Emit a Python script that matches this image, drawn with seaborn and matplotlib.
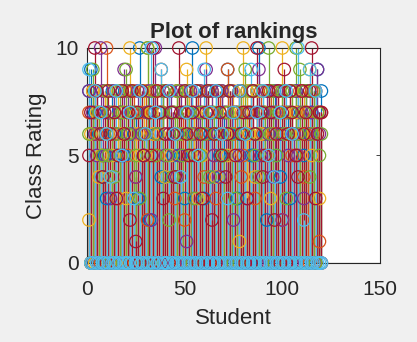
import numpy as np
import pandas as pd
import matplotlib
matplotlib.use("Agg")
import matplotlib.pyplot as plt
import seaborn as sns

students = list(range(1, 121))
s_blue = [8,9,0,7,8,6,0,4,5,3, 7,0,8,6,5,0,7,8,5,0,
          6,8,0,6,7,3,10,0,5,8, 7,2,0,8,6,0,7,4,8,4,
          0,8,7,5,0,6,8,5,0,3, 8,7,0,10,6,8,0,7,6,3,
          8,0,6,7,4,8,0,5,8,7, 0,9,6,8,0,7,3,6,0,6,
          7,8,0,5,5,0,8,10,7,0, 6,2,8,0,7,8,5,0,4,6,
          8,0,7,3,6,0,8,7,6,0, 5,8,0,6,7,8,0,9,7,8]
s_orange = [7,0,8,6,6,7,0,5,8,10, 0,7,6,8,0,3,7,0,6,8,
            5,0,7,8,4,0,6,7,0,8, 2,0,7,6,8,5,0,9,7,0,
            8,6,0,7,3,8,0,6,7,2, 0,8,5,7,0,6,8,0,7,4,
            6,8,0,7,5,3,0,8,6,0, 7,9,8,0,6,7,0,8,4,5,
            0,7,6,8,0,3,7,0,8,6, 7,0,5,8,6,0,7,8,0,2,
            6,7,0,8,5,0,5,7,8,0, 4,6,7,0,8,6,0,7,1,7]
s_yellow = [2,6,8,0,7,4,5,0,8,6, 0,4,5,7,0,8,6,0,7,3,
            0,10,8,0,6,7,5,0,8,5, 10,0,7,6,0,8,6,7,0,4,
            8,0,5,7,6,0,8,6,0,7, 9,8,0,6,7,0,3,8,5,0,
            10,7,0,8,6,4,0,7,8,0, 6,5,7,0,8,5,0,1,7,10,
            0,8,6,7,0,4,8,0,6,7, 5,0,8,3,0,7,6,8,0,10,
            7,0,6,6,8,0,7,5,0,6, 8,7,0,9,5,0,8,7,3,0]
s_purple = [8,0,7,6,5,0,10,8,0,5, 7,3,0,8,6,0,7,5,9,0,
            8,6,0,7,4,8,0,6,5,0, 7,8,2,0,10,6,0,7,8,5,
            0,6,8,7,0,4,5,8,0,7, 1,0,8,6,3,0,7,8,0,6,
            9,0,7,8,5,0,6,4,8,0, 7,6,0,8,2,0,7,5,8,0,
            6,3,0,7,8,6,0,9,5,7, 0,8,6,0,4,7,8,0,6,2,
            8,0,5,7,0,6,8,5,0,7, 3,8,0,6,7,0,8,9,6,0]
s_green = [6,0,9,8,0,7,6,5,0,8, 5,0,7,4,6,0,8,7,0,9,
           6,8,0,7,5,0,3,8,6,0, 10,7,0,8,5,6,0,7,8,0,
           5,2,0,4,7,8,0,6,5,0, 8,7,6,0,3,8,0,5,7,6,
           0,8,4,0,7,6,8,0,5,5, 0,7,8,6,0,3,7,0,8,6,
           9,0,7,8,0,5,6,4,0,8, 7,0,10,6,8,0,5,7,0,8,
           6,3,0,7,8,0,10,6,9,0, 7,8,0,4,6,8,0,7,5,6]
s_darkred = [5,7,0,10,8,0,6,4,7,0, 8,6,0,7,3,5,0,8,6,0,
             7,2,8,0,1,7,0,8,5,6, 0,7,5,10,0,8,7,0,3,6,
             8,0,7,6,4,0,10,7,0,8, 6,5,0,7,5,8,0,6,3,0,
             7,8,0,2,6,0,8,7,5,0, 4,6,8,0,7,5,0,8,6,7,
             0,3,7,0,8,6,10,0,7,4, 5,0,8,7,0,2,6,8,0,7,
             9,0,6,8,7,0,5,4,0,8, 6,7,0,8,10,0,3,6,7,7]
s_lightblue = [9,0,0,8,0,0,7,0,0,6, 0,4,0,0,8,0,0,5,0,0,
               0,7,0,3,0,0,8,0,0,6, 0,0,10,0,7,0,0,9,0,0,
               0,8,0,0,6,0,0,4,0,0, 7,0,0,8,0,0,5,0,0,9,
               0,0,7,0,0,8,0,0,6,0, 0,3,0,0,7,0,0,8,0,0,
               6,0,0,9,0,0,7,0,0,8, 0,0,5,0,0,4,0,0,7,0,
               0,8,0,0,6,0,0,10,0,0, 2,0,0,9,0,0,8,0,0,0]

series_names = ["blue", "orange", "yellow", "purple", "green", "darkred", "lightblue"]
series_vals = [s_blue, s_orange, s_yellow, s_purple, s_green, s_darkred, s_lightblue]
colors = ["#0072BD", "#D95319", "#EDB120", "#7E2F8E", "#77AC30", "#A2142F", "#4DBEEE"]

df = pd.concat([pd.DataFrame({"Student": students, "Rating": v, "series": n})
                for n, v in zip(series_names, series_vals)], ignore_index=True)

sns.set_style("white")
plt.rcParams["font.family"] = ["Liberation Sans", "DejaVu Sans"]

fig = plt.figure(figsize=(4.17, 3.42), dpi=100, facecolor="#f0f0f0")
ax = fig.add_axes([0.2086, 0.231, 0.7027, 0.6287])
ax.set_facecolor("white")

# stems
for n, c in zip(series_names, colors):
    sub = df[df["series"] == n]
    ax.vlines(sub["Student"], 0, sub["Rating"], colors=c, linewidth=0.9, zorder=2)

sns.scatterplot(data=df, x="Student", y="Rating", hue="series",
                palette=dict(zip(series_names, colors)), s=80, marker="o",
                linewidth=0.9, legend=False, ax=ax, zorder=3)
coll = ax.collections[-1]
fc = coll.get_facecolors()
coll.set_edgecolors(fc)
coll.set_facecolors("none")
coll.set_clip_on(False)

ax.axhline(0, color="black", linewidth=0.8, zorder=1)

ax.set_xlim(0, 150)
ax.set_ylim(0, 10)
ax.set_xticks([0, 50, 100, 150])
ax.set_yticks([0, 5, 10])
ax.tick_params(direction="in", top=True, right=True, labelsize=15,
               length=3, width=0.6, colors="#262626")
ax.tick_params(axis="x", pad=12)
ax.tick_params(axis="y", pad=6)
for sp in ax.spines.values():
    sp.set_visible(True)
    sp.set_color("#262626")
    sp.set_linewidth(0.8)

ax.set_xlabel("Student", fontsize=16, color="#262626", labelpad=7)
ax.set_ylabel("Class Rating", fontsize=16, color="#262626", labelpad=6)
ax.set_title("Plot of rankings", fontsize=16, fontweight="bold", pad=7)

fig.savefig("out.png", dpi=100, facecolor=fig.get_facecolor())
